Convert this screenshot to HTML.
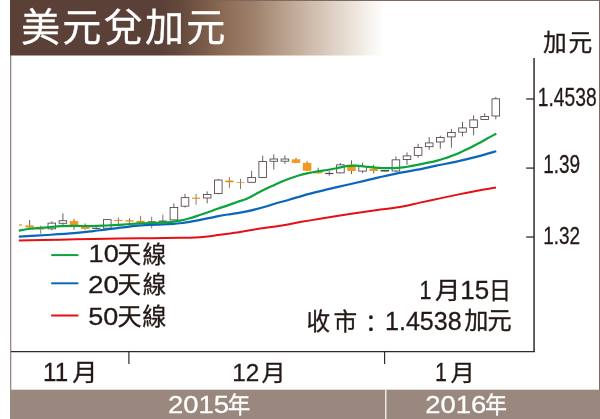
<!DOCTYPE html>
<html lang="zh-Hant"><head><meta charset="utf-8"><title>美元兌加元</title>
<style>
html,body{margin:0;padding:0;background:#fff;}
body{width:600px;height:419px;overflow:hidden;}
svg{display:block;will-change:transform;}
text{font-family:'Liberation Sans','Noto Sans CJK TC',sans-serif;fill:#231815;stroke:#231815;stroke-width:0.3px;paint-order:stroke fill;}
.cjk{font-family:'Noto Sans CJK TC','Liberation Sans',sans-serif;}
</style></head><body>
<svg width="600" height="419" viewBox="0 0 600 419">
<defs>
<linearGradient id="hg" x1="0" y1="0" x2="1" y2="0">
<stop offset="0.0" stop-color="#5a4037"/>
<stop offset="0.4011" stop-color="#5a4037"/>
<stop offset="0.4545" stop-color="#64493c"/>
<stop offset="0.508" stop-color="#765846"/>
<stop offset="0.5749" stop-color="#8c6c56"/>
<stop offset="0.6497" stop-color="#9e806a"/>
<stop offset="0.7273" stop-color="#b69e8a"/>
<stop offset="0.8021" stop-color="#cdbaaa"/>
<stop offset="0.877" stop-color="#e2d5ca"/>
<stop offset="0.9545" stop-color="#f5f0eb"/>
<stop offset="1.0" stop-color="#ffffff"/>
</linearGradient>
</defs>
<rect x="0" y="0" width="600" height="419" fill="#fff"/>
<!-- header -->
<rect x="10" y="0" width="374" height="55.5" fill="url(#hg)"/>
<!-- frame -->
<rect x="10.2" y="0" width="589.8" height="1" fill="#7d695f" style="mix-blend-mode:darken"/>
<rect x="10.2" y="0" width="1.05" height="419" fill="#7d695f" style="mix-blend-mode:darken"/>
<rect x="599" y="0" width="1" height="419" fill="#7d695f"/>
<!-- bottom band -->
<rect x="10" y="389.7" width="590" height="29.3" fill="#9a887e"/>
<rect x="385.2" y="389.7" width="1.2" height="29.3" fill="#fff"/>
<text style="fill:#fff;stroke:#fff"><tspan class="cjk" x="21.04" y="40.88" font-size="39.14" letter-spacing="2.21">美元兌加元</tspan></text>
<text><tspan class="cjk" x="543.09" y="50.8" font-size="23.74" letter-spacing="1.64">加元</tspan></text>
<text><tspan x="537.76" y="106.35" font-size="25.21" textLength="58.87" lengthAdjust="spacingAndGlyphs">1.4538</tspan></text>
<text><tspan x="543.18" y="173.45" font-size="25.07" textLength="37.00" lengthAdjust="spacingAndGlyphs">1.39</tspan></text>
<text><tspan x="543.18" y="244.35" font-size="24.79" textLength="37.00" lengthAdjust="spacingAndGlyphs">1.32</tspan></text>
<text><tspan x="88.63" y="262.16" font-size="24.08" textLength="30.22" lengthAdjust="spacingAndGlyphs">10</tspan><tspan class="cjk" x="117.52" y="262.57" font-size="23.66" letter-spacing="1.42">天線</tspan></text>
<text><tspan x="88.01" y="292.95" font-size="24.51" textLength="30.97" lengthAdjust="spacingAndGlyphs">20</tspan><tspan class="cjk" x="117.53" y="293.49" font-size="23.44" letter-spacing="1.83">天線</tspan></text>
<text><tspan x="88.32" y="324.55" font-size="24.65" textLength="30.02" lengthAdjust="spacingAndGlyphs">50</tspan><tspan class="cjk" x="117.5" y="324.83" font-size="24.09" letter-spacing="0.6">天線</tspan></text>
<text><tspan x="419.57" y="299.1" font-size="24.93" textLength="11.93" lengthAdjust="spacingAndGlyphs">1</tspan><tspan class="cjk" x="434.94" y="298.9" font-size="23.79" textLength="25.44" lengthAdjust="spacingAndGlyphs">月</tspan><tspan x="460.22" y="299.05" font-size="24.86" textLength="28.88" lengthAdjust="spacingAndGlyphs">15</tspan><tspan class="cjk" x="488.94" y="298.66" font-size="23.45" textLength="22.00" lengthAdjust="spacingAndGlyphs">日</tspan></text>
<text><tspan class="cjk" x="306.58" y="330.11" font-size="23.66" letter-spacing="3.29">收市</tspan><tspan class="cjk" x="359.1" y="331.52" font-size="23.8">：</tspan><tspan x="385.0" y="329.55" font-size="25.35" textLength="76.61" lengthAdjust="spacingAndGlyphs">1.4538</tspan><tspan class="cjk" x="464.27" y="329.47" font-size="24.18" letter-spacing="-0.86">加元</tspan></text>
<text><tspan x="43.07" y="381.2" font-size="25.22" textLength="25.10" lengthAdjust="spacingAndGlyphs">11</tspan><tspan class="cjk" x="72.24" y="381.1" font-size="23.79" textLength="25.31" lengthAdjust="spacingAndGlyphs">月</tspan></text>
<text><tspan x="232.26" y="381.4" font-size="24.57" textLength="27.01" lengthAdjust="spacingAndGlyphs">12</tspan><tspan class="cjk" x="261.47" y="380.94" font-size="23.22" textLength="24.18" lengthAdjust="spacingAndGlyphs">月</tspan></text>
<text><tspan x="435.07" y="381.4" font-size="24.93" textLength="11.93" lengthAdjust="spacingAndGlyphs">1</tspan><tspan class="cjk" x="450.47" y="380.94" font-size="23.22" textLength="24.43" lengthAdjust="spacingAndGlyphs">月</tspan></text>
<text style="fill:#fff;stroke:#fff"><tspan x="167.93" y="412.75" font-size="24.65" textLength="61.00" lengthAdjust="spacingAndGlyphs">2015</tspan><tspan class="cjk" x="227.67" y="413.46" font-size="23.01" textLength="22.55" lengthAdjust="spacingAndGlyphs">年</tspan></text>
<text style="fill:#fff;stroke:#fff"><tspan x="425.33" y="412.75" font-size="24.65" textLength="60.90" lengthAdjust="spacingAndGlyphs">2016</tspan><tspan class="cjk" x="485.1" y="413.46" font-size="23.01" textLength="22.00" lengthAdjust="spacingAndGlyphs">年</tspan></text>
<!-- axes -->
<line x1="11" y1="351.5" x2="534.8" y2="351.5" stroke="#33292a" stroke-width="1.25"/>
<line x1="534.05" y1="58" x2="534.05" y2="352.1" stroke="#33292a" stroke-width="1.5"/>
<line x1="526.2" y1="99" x2="534" y2="99" stroke="#33292a" stroke-width="1.3"/>
<line x1="526.2" y1="168.1" x2="534" y2="168.1" stroke="#33292a" stroke-width="1.3"/>
<line x1="526.2" y1="237" x2="534" y2="237" stroke="#33292a" stroke-width="1.3"/>
<line x1="128.9" y1="351.6" x2="128.9" y2="364" stroke="#33292a" stroke-width="1.2"/>
<line x1="384.6" y1="351.6" x2="384.6" y2="364" stroke="#33292a" stroke-width="1.2"/>
<!-- candles -->
<line x1="19" y1="225" x2="22" y2="225" stroke="#f39a1e" stroke-width="1.3"/>
<line x1="29.60" y1="220" x2="29.60" y2="227.8" stroke="#4f4442" stroke-width="0.85"/>
<rect x="25.35" y="225.3" width="8.5" height="2.20" fill="#f39a1e"/>
<line x1="40.70" y1="225.7" x2="40.70" y2="233.7" stroke="#4f4442" stroke-width="0.7"/>
<line x1="36.60" y1="229" x2="44.80" y2="229" stroke="#ef8a00" stroke-width="1.0"/>
<line x1="51.80" y1="221.3" x2="51.80" y2="230.3" stroke="#4f4442" stroke-width="0.85"/>
<rect x="48.00" y="223.12" width="7.6" height="5.75" fill="#fff" stroke="#4f4442" stroke-width="0.85"/>
<line x1="62.90" y1="213.3" x2="62.90" y2="225" stroke="#4f4442" stroke-width="0.85"/>
<rect x="59.10" y="220.73" width="7.6" height="2.55" fill="#fff" stroke="#4f4442" stroke-width="0.85"/>
<line x1="74.00" y1="219" x2="74.00" y2="229.7" stroke="#4f4442" stroke-width="0.85"/>
<rect x="69.75" y="221" width="8.5" height="4.20" fill="#f39a1e"/>
<line x1="85.10" y1="223.4" x2="85.10" y2="229.7" stroke="#4f4442" stroke-width="0.85"/>
<rect x="80.85" y="226.7" width="8.5" height="2.30" fill="#f39a1e"/>
<line x1="96.20" y1="226.4" x2="96.20" y2="228.9" stroke="#4f4442" stroke-width="0.75"/>
<line x1="92.10" y1="228.4" x2="100.30" y2="228.4" stroke="#4f4442" stroke-width="1.0"/>
<line x1="107.30" y1="219.2" x2="107.30" y2="229" stroke="#4f4442" stroke-width="0.85"/>
<rect x="103.50" y="219.62" width="7.6" height="8.55" fill="#fff" stroke="#4f4442" stroke-width="0.85"/>
<line x1="118.40" y1="217.5" x2="118.40" y2="226.5" stroke="#4f4442" stroke-width="0.7"/>
<line x1="114.30" y1="220.4" x2="122.50" y2="220.4" stroke="#ef8a00" stroke-width="1.0"/>
<line x1="129.50" y1="218" x2="129.50" y2="225.8" stroke="#4f4442" stroke-width="0.7"/>
<line x1="125.40" y1="220.9" x2="133.60" y2="220.9" stroke="#ef8a00" stroke-width="1.3"/>
<line x1="140.60" y1="215.8" x2="140.60" y2="222.6" stroke="#4f4442" stroke-width="0.7"/>
<line x1="136.50" y1="221.8" x2="144.70" y2="221.8" stroke="#ef8a00" stroke-width="1.9"/>
<line x1="151.70" y1="216.7" x2="151.70" y2="228.3" stroke="#4f4442" stroke-width="0.75"/>
<line x1="147.60" y1="221.7" x2="155.80" y2="221.7" stroke="#4f4442" stroke-width="0.8"/>
<line x1="162.80" y1="214.7" x2="162.80" y2="222" stroke="#4f4442" stroke-width="0.75"/>
<line x1="158.70" y1="221.2" x2="166.90" y2="221.2" stroke="#4f4442" stroke-width="1.2"/>
<line x1="173.90" y1="203.3" x2="173.90" y2="220.3" stroke="#4f4442" stroke-width="0.85"/>
<rect x="170.10" y="207.43" width="7.6" height="12.45" fill="#fff" stroke="#4f4442" stroke-width="0.85"/>
<line x1="185.00" y1="193.9" x2="185.00" y2="207.6" stroke="#4f4442" stroke-width="0.85"/>
<rect x="181.20" y="197.62" width="7.6" height="8.55" fill="#fff" stroke="#4f4442" stroke-width="0.85"/>
<line x1="196.10" y1="194" x2="196.10" y2="204.7" stroke="#4f4442" stroke-width="0.7"/>
<line x1="192.00" y1="198.2" x2="200.20" y2="198.2" stroke="#ef8a00" stroke-width="1.1"/>
<line x1="207.20" y1="191.4" x2="207.20" y2="203.3" stroke="#4f4442" stroke-width="0.85"/>
<rect x="203.40" y="194.43" width="7.6" height="3.55" fill="#fff" stroke="#4f4442" stroke-width="0.85"/>
<line x1="218.30" y1="179.0" x2="218.30" y2="194.4" stroke="#4f4442" stroke-width="0.85"/>
<rect x="214.50" y="180.03" width="7.6" height="13.55" fill="#fff" stroke="#4f4442" stroke-width="0.85"/>
<line x1="229.40" y1="177.1" x2="229.40" y2="188.2" stroke="#4f4442" stroke-width="0.7"/>
<line x1="225.30" y1="181.4" x2="233.50" y2="181.4" stroke="#ef8a00" stroke-width="1.7"/>
<line x1="240.50" y1="178.8" x2="240.50" y2="189" stroke="#4f4442" stroke-width="0.7"/>
<line x1="236.40" y1="182.5" x2="244.60" y2="182.5" stroke="#ef8a00" stroke-width="0.7"/>
<line x1="251.60" y1="170.8" x2="251.60" y2="182.7" stroke="#4f4442" stroke-width="0.85"/>
<rect x="247.80" y="177.53" width="7.6" height="4.75" fill="#fff" stroke="#4f4442" stroke-width="0.85"/>
<line x1="262.70" y1="155.7" x2="262.70" y2="177.9" stroke="#4f4442" stroke-width="0.85"/>
<rect x="258.90" y="161.53" width="7.6" height="15.95" fill="#fff" stroke="#4f4442" stroke-width="0.85"/>
<line x1="273.80" y1="154.4" x2="273.80" y2="169.7" stroke="#4f4442" stroke-width="0.85"/>
<rect x="270.00" y="159.03" width="7.6" height="2.25" fill="#fff" stroke="#4f4442" stroke-width="0.85"/>
<line x1="284.90" y1="155.4" x2="284.90" y2="163.9" stroke="#4f4442" stroke-width="0.85"/>
<rect x="281.10" y="159.03" width="7.6" height="2.15" fill="#fff" stroke="#4f4442" stroke-width="0.85"/>
<line x1="296.00" y1="158" x2="296.00" y2="163.3" stroke="#4f4442" stroke-width="0.85"/>
<rect x="291.75" y="159.3" width="8.5" height="3.60" fill="#f39a1e"/>
<line x1="307.10" y1="161.2" x2="307.10" y2="170.8" stroke="#4f4442" stroke-width="0.85"/>
<rect x="302.85" y="162.9" width="8.5" height="7.90" fill="#f39a1e"/>
<line x1="318.20" y1="167.7" x2="318.20" y2="173.4" stroke="#4f4442" stroke-width="0.85"/>
<rect x="313.95" y="171.3" width="8.5" height="2.10" fill="#f39a1e"/>
<line x1="329.30" y1="170.8" x2="329.30" y2="175.8" stroke="#4f4442" stroke-width="0.75"/>
<line x1="325.20" y1="173.5" x2="333.40" y2="173.5" stroke="#4f4442" stroke-width="1.2"/>
<line x1="340.40" y1="163" x2="340.40" y2="173.3" stroke="#4f4442" stroke-width="0.85"/>
<rect x="336.60" y="164.83" width="7.6" height="8.05" fill="#fff" stroke="#4f4442" stroke-width="0.85"/>
<line x1="351.50" y1="160.4" x2="351.50" y2="174" stroke="#4f4442" stroke-width="0.85"/>
<rect x="347.25" y="164.6" width="8.5" height="6.40" fill="#f39a1e"/>
<line x1="362.60" y1="162.6" x2="362.60" y2="173.2" stroke="#4f4442" stroke-width="0.85"/>
<rect x="358.80" y="166.43" width="7.6" height="4.65" fill="#fff" stroke="#4f4442" stroke-width="0.85"/>
<line x1="373.70" y1="164.7" x2="373.70" y2="173.4" stroke="#4f4442" stroke-width="0.85"/>
<rect x="369.45" y="168.5" width="8.5" height="2.50" fill="#f39a1e"/>
<line x1="384.80" y1="170" x2="384.80" y2="171.5" stroke="#4f4442" stroke-width="0.85"/>
<rect x="381.00" y="170.43" width="7.6" height="0.65" fill="#fff" stroke="#4f4442" stroke-width="0.85"/>
<line x1="395.90" y1="156.3" x2="395.90" y2="172.4" stroke="#4f4442" stroke-width="0.85"/>
<rect x="392.10" y="159.83" width="7.6" height="11.15" fill="#fff" stroke="#4f4442" stroke-width="0.85"/>
<line x1="407.00" y1="152.4" x2="407.00" y2="164.9" stroke="#4f4442" stroke-width="0.85"/>
<rect x="403.20" y="155.93" width="7.6" height="3.65" fill="#fff" stroke="#4f4442" stroke-width="0.85"/>
<line x1="418.10" y1="143.8" x2="418.10" y2="157.7" stroke="#4f4442" stroke-width="0.85"/>
<rect x="414.30" y="147.53" width="7.6" height="7.85" fill="#fff" stroke="#4f4442" stroke-width="0.85"/>
<line x1="429.20" y1="137.1" x2="429.20" y2="149.8" stroke="#4f4442" stroke-width="0.85"/>
<rect x="425.40" y="142.93" width="7.6" height="3.75" fill="#fff" stroke="#4f4442" stroke-width="0.85"/>
<line x1="440.30" y1="135.7" x2="440.30" y2="148.7" stroke="#4f4442" stroke-width="0.85"/>
<rect x="436.50" y="137.53" width="7.6" height="4.45" fill="#fff" stroke="#4f4442" stroke-width="0.85"/>
<line x1="451.40" y1="129.1" x2="451.40" y2="147.8" stroke="#4f4442" stroke-width="0.85"/>
<rect x="447.60" y="132.53" width="7.6" height="4.35" fill="#fff" stroke="#4f4442" stroke-width="0.85"/>
<line x1="462.50" y1="121.8" x2="462.50" y2="136.4" stroke="#4f4442" stroke-width="0.85"/>
<rect x="458.70" y="127.92" width="7.6" height="4.25" fill="#fff" stroke="#4f4442" stroke-width="0.85"/>
<line x1="473.60" y1="115.3" x2="473.60" y2="135.3" stroke="#4f4442" stroke-width="0.85"/>
<rect x="469.80" y="119.92" width="7.6" height="7.65" fill="#fff" stroke="#4f4442" stroke-width="0.85"/>
<line x1="484.70" y1="113.2" x2="484.70" y2="119.9" stroke="#4f4442" stroke-width="0.85"/>
<rect x="480.90" y="116.42" width="7.6" height="3.05" fill="#fff" stroke="#4f4442" stroke-width="0.85"/>
<line x1="495.80" y1="96.9" x2="495.80" y2="119.3" stroke="#4f4442" stroke-width="0.85"/>
<rect x="492.00" y="98.83" width="7.6" height="17.15" fill="#fff" stroke="#4f4442" stroke-width="0.85"/>
<!-- MAs -->
<path d="M18.80,240.40 C25.67,240.28 47.47,239.95 60.00,239.70 C72.53,239.45 80.67,239.12 94.00,238.90 C107.33,238.68 125.67,238.53 140.00,238.35 C154.33,238.17 171.67,237.89 180.00,237.80 C188.33,237.71 186.67,237.88 190.00,237.79 C193.33,237.70 196.67,237.50 200.00,237.24 C203.33,236.99 206.67,236.67 210.00,236.26 C213.33,235.85 215.00,235.50 220.00,234.78 C225.00,234.06 233.33,232.96 240.00,231.92 C246.67,230.88 253.33,229.56 260.00,228.52 C266.67,227.48 273.33,226.77 280.00,225.70 C286.67,224.63 293.33,223.25 300.00,222.10 C306.67,220.95 313.33,219.90 320.00,218.80 C326.67,217.70 333.33,216.56 340.00,215.50 C346.67,214.44 353.33,213.42 360.00,212.43 C366.67,211.44 373.33,210.47 380.00,209.57 C386.67,208.66 393.33,208.16 400.00,207.00 C406.67,205.84 413.33,204.08 420.00,202.64 C426.67,201.20 433.33,199.80 440.00,198.38 C446.67,196.96 453.33,195.48 460.00,194.11 C466.67,192.74 474.00,191.27 480.00,190.15 C486.00,189.03 493.33,187.86 496.00,187.40" fill="none" stroke="#e60f14" stroke-width="2.0" stroke-linejoin="round" stroke-linecap="butt"/>
<path d="M18.80,236.60 C23.50,236.33 37.80,235.57 47.00,235.00 C56.20,234.43 66.50,233.82 74.00,233.20 C81.50,232.58 86.55,231.95 92.00,231.30 C97.45,230.65 101.48,229.96 106.70,229.32 C111.92,228.68 117.75,228.11 123.30,227.46 C128.85,226.81 134.43,225.87 140.00,225.40 C145.57,224.94 151.15,224.91 156.70,224.67 C162.25,224.42 168.87,224.23 173.30,223.93 C177.73,223.63 180.60,223.21 183.30,222.87 C186.00,222.53 186.88,222.38 189.50,221.92 C192.12,221.46 195.82,220.71 199.00,220.09 C202.18,219.47 205.40,218.85 208.60,218.20 C211.80,217.55 215.02,216.82 218.20,216.20 C221.38,215.58 224.52,215.02 227.70,214.50 C230.88,213.98 234.12,213.63 237.30,213.10 C240.48,212.57 243.63,211.95 246.80,211.30 C249.97,210.65 253.12,209.98 256.30,209.18 C259.48,208.38 262.72,207.45 265.90,206.51 C269.08,205.57 271.55,204.67 275.40,203.54 C279.25,202.41 283.53,201.30 289.00,199.73 C294.47,198.16 301.82,195.83 308.20,194.10 C314.58,192.37 320.95,190.89 327.30,189.37 C333.65,187.85 339.95,186.44 346.30,184.99 C352.65,183.54 359.95,181.92 365.40,180.65 C370.85,179.38 373.53,178.65 379.00,177.40 C384.47,176.15 391.82,174.43 398.20,173.14 C404.58,171.85 410.95,170.91 417.30,169.66 C423.65,168.41 429.95,166.97 436.30,165.66 C442.65,164.35 448.42,163.38 455.40,161.82 C462.38,160.26 471.38,158.10 478.20,156.33 C485.02,154.56 493.28,152.06 496.30,151.20" fill="none" stroke="#0b66bb" stroke-width="2.2" stroke-linejoin="round" stroke-linecap="butt"/>
<path d="M18.80,230.60 C20.33,230.33 25.03,229.41 28.00,229.00 C30.97,228.59 33.27,228.44 36.60,228.16 C39.93,227.88 43.98,227.63 48.00,227.30 C52.02,226.97 56.37,226.43 60.70,226.20 C65.03,225.97 68.78,225.92 74.00,225.90 C79.22,225.88 86.55,226.17 92.00,226.10 C97.45,226.03 101.48,225.74 106.70,225.48 C111.92,225.22 117.75,224.92 123.30,224.56 C128.85,224.20 134.43,223.59 140.00,223.30 C145.57,223.01 151.70,223.02 156.70,222.82 C161.70,222.62 166.12,222.46 170.00,222.11 C173.88,221.76 176.72,221.34 180.00,220.70 C183.28,220.06 186.53,219.19 189.70,218.29 C192.87,217.39 195.85,216.34 199.00,215.28 C202.15,214.22 205.40,213.09 208.60,211.96 C211.80,210.83 215.02,209.60 218.20,208.50 C221.38,207.40 224.52,206.43 227.70,205.34 C230.88,204.25 234.12,203.06 237.30,201.96 C240.48,200.86 243.63,200.08 246.80,198.72 C249.97,197.36 253.12,195.45 256.30,193.80 C259.48,192.16 263.28,190.14 265.90,188.85 C268.52,187.56 269.70,187.12 272.00,186.05 C274.30,184.98 276.87,183.65 279.70,182.45 C282.53,181.25 285.85,179.99 289.00,178.84 C292.15,177.69 295.40,176.48 298.60,175.54 C301.80,174.60 305.02,173.88 308.20,173.18 C311.38,172.48 314.52,171.87 317.70,171.33 C320.88,170.80 324.12,170.49 327.30,169.97 C330.48,169.45 333.63,168.82 336.80,168.19 C339.97,167.56 343.12,166.61 346.30,166.17 C349.48,165.73 352.72,165.47 355.90,165.54 C359.08,165.61 361.55,166.18 365.40,166.57 C369.25,166.96 375.13,167.62 379.00,167.89 C382.87,168.15 385.40,168.17 388.60,168.16 C391.80,168.15 395.02,168.06 398.20,167.83 C401.38,167.60 404.52,167.25 407.70,166.76 C410.88,166.27 414.12,165.53 417.30,164.89 C420.48,164.25 423.63,163.59 426.80,162.91 C429.97,162.23 433.12,161.65 436.30,160.83 C439.48,160.02 442.72,159.06 445.90,158.02 C449.08,156.98 451.62,156.17 455.40,154.59 C459.18,153.01 464.80,150.37 468.60,148.53 C472.40,146.69 475.02,145.24 478.20,143.53 C481.38,141.82 484.68,139.90 487.70,138.26 C490.72,136.62 494.87,134.46 496.30,133.70" fill="none" stroke="#0ba43b" stroke-width="2.2" stroke-linejoin="round" stroke-linecap="butt"/>
<!-- legend -->
<line x1="51.2" y1="255.1" x2="78.4" y2="255.1" stroke="#0ba43b" stroke-width="2"/>
<line x1="51.2" y1="283.3" x2="78.4" y2="283.3" stroke="#0b66bb" stroke-width="2"/>
<line x1="51.2" y1="315.5" x2="78.4" y2="315.5" stroke="#e60f14" stroke-width="2"/>
</svg>
</body></html>
